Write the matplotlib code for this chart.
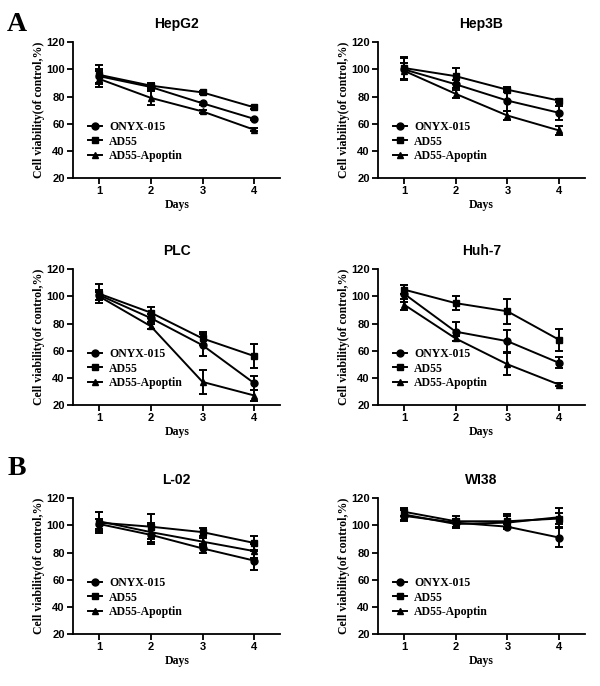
import matplotlib
matplotlib.use("Agg")
import matplotlib.pyplot as plt

days = [1, 2, 3, 4]
series_names = ["ONYX-015", "AD55", "AD55-Apoptin"]
markers = ["o", "s", "^"]

# cell line -> means / errors for ONYX-015, AD55, AD55-Apoptin
hepg2_mean = [[95, 87, 75, 63.5], [96, 88, 83, 72], [93, 79, 69, 55.5]]
hepg2_err = [[5, 2, 1, 1], [7, 2, 1, 1], [6, 5, 1, 1]]

hep3b_mean = [[100, 89, 77, 68], [101, 95, 85, 77], [99, 82, 66, 55]]
hep3b_err = [[8, 3, 8, 5], [8, 6, 2, 1], [6, 3, 3, 3]]

plc_mean = [[101, 84, 64, 36], [102, 88, 69, 56], [100, 78, 37, 27]]
plc_err = [[4, 3, 8, 5], [7, 4, 5, 9], [3, 2, 9, 4]]

huh7_mean = [[102, 74, 67, 51], [105, 95, 89, 68], [94, 69, 50, 35]]
huh7_err = [[6, 7, 8, 4], [3, 5, 9, 8], [4, 2, 8, 1]]

l02_mean = [[101, 93, 83, 74], [102, 99, 95, 87], [103, 95, 88, 81]]
l02_err = [[4, 7, 3, 7], [8, 9, 3, 5], [7, 7, 3, 5]]

wi38_mean = [[107, 102, 99, 91], [110, 103, 103, 105], [108, 101, 102, 106]]
wi38_err = [[4, 3, 2, 7], [3, 4, 5, 4], [4, 3, 5, 7]]

panels = [
    ("HepG2", hepg2_mean, hepg2_err),
    ("Hep3B", hep3b_mean, hep3b_err),
    ("PLC", plc_mean, plc_err),
    ("Huh-7", huh7_mean, huh7_err),
    ("L-02", l02_mean, l02_err),
    ("WI38", wi38_mean, wi38_err),
]

serif = "Liberation Serif"
sans = "Liberation Sans"

fig = plt.figure(figsize=(6, 6.86), dpi=100)

lefts = [0.122, 0.630]
bottoms = [0.7405, 0.4096, 0.0758]
width = 0.345
height = 0.198

for i, (name, means, errs) in enumerate(panels):
    row, col = divmod(i, 2)
    ax = fig.add_axes([lefts[col], bottoms[row], width, height])
    for k in range(3):
        ax.errorbar(days, means[k], yerr=errs[k], color="black", lw=1.4,
                    marker=markers[k], ms=5, capsize=3, elinewidth=1.4,
                    capthick=1.4, label=series_names[k])
    ax.set_xlim(0.5, 4.5)
    ax.set_ylim(20, 120)
    ax.set_xticks(days)
    ax.set_yticks([20, 40, 60, 80, 100, 120])
    for s in ["top", "right"]:
        ax.spines[s].set_visible(False)
    for s in ["left", "bottom"]:
        ax.spines[s].set_linewidth(1.3)
    ax.tick_params(direction="out", width=1.3, length=4, labelsize=8, pad=2)
    for lbl in ax.get_xticklabels() + ax.get_yticklabels():
        lbl.set_fontweight("bold")
        lbl.set_fontfamily(sans)
    ax.set_title(name, fontsize=10, fontweight="bold", family=sans, pad=10)
    ax.set_xlabel("Days", fontsize=8.5, fontweight="bold", family=serif, labelpad=2)
    ax.set_ylabel("Cell viability(of control,%)", fontsize=8.5,
                  fontweight="bold", family=serif, labelpad=1)
    handles, labels = ax.get_legend_handles_labels()
    handles = [h[0] for h in handles]
    ax.legend(handles, labels, loc="lower left", bbox_to_anchor=(0.02, 0.04),
              frameon=False, handlelength=1.2, handletextpad=0.6,
              labelspacing=0.2,
              prop={"family": serif, "weight": "bold", "size": 8.5})

fig.text(0.012, 0.955, "A", fontsize=20, fontweight="bold", family=serif)
fig.text(0.012, 0.308, "B", fontsize=20, fontweight="bold", family=serif)

fig.savefig("out.png", dpi=100)
